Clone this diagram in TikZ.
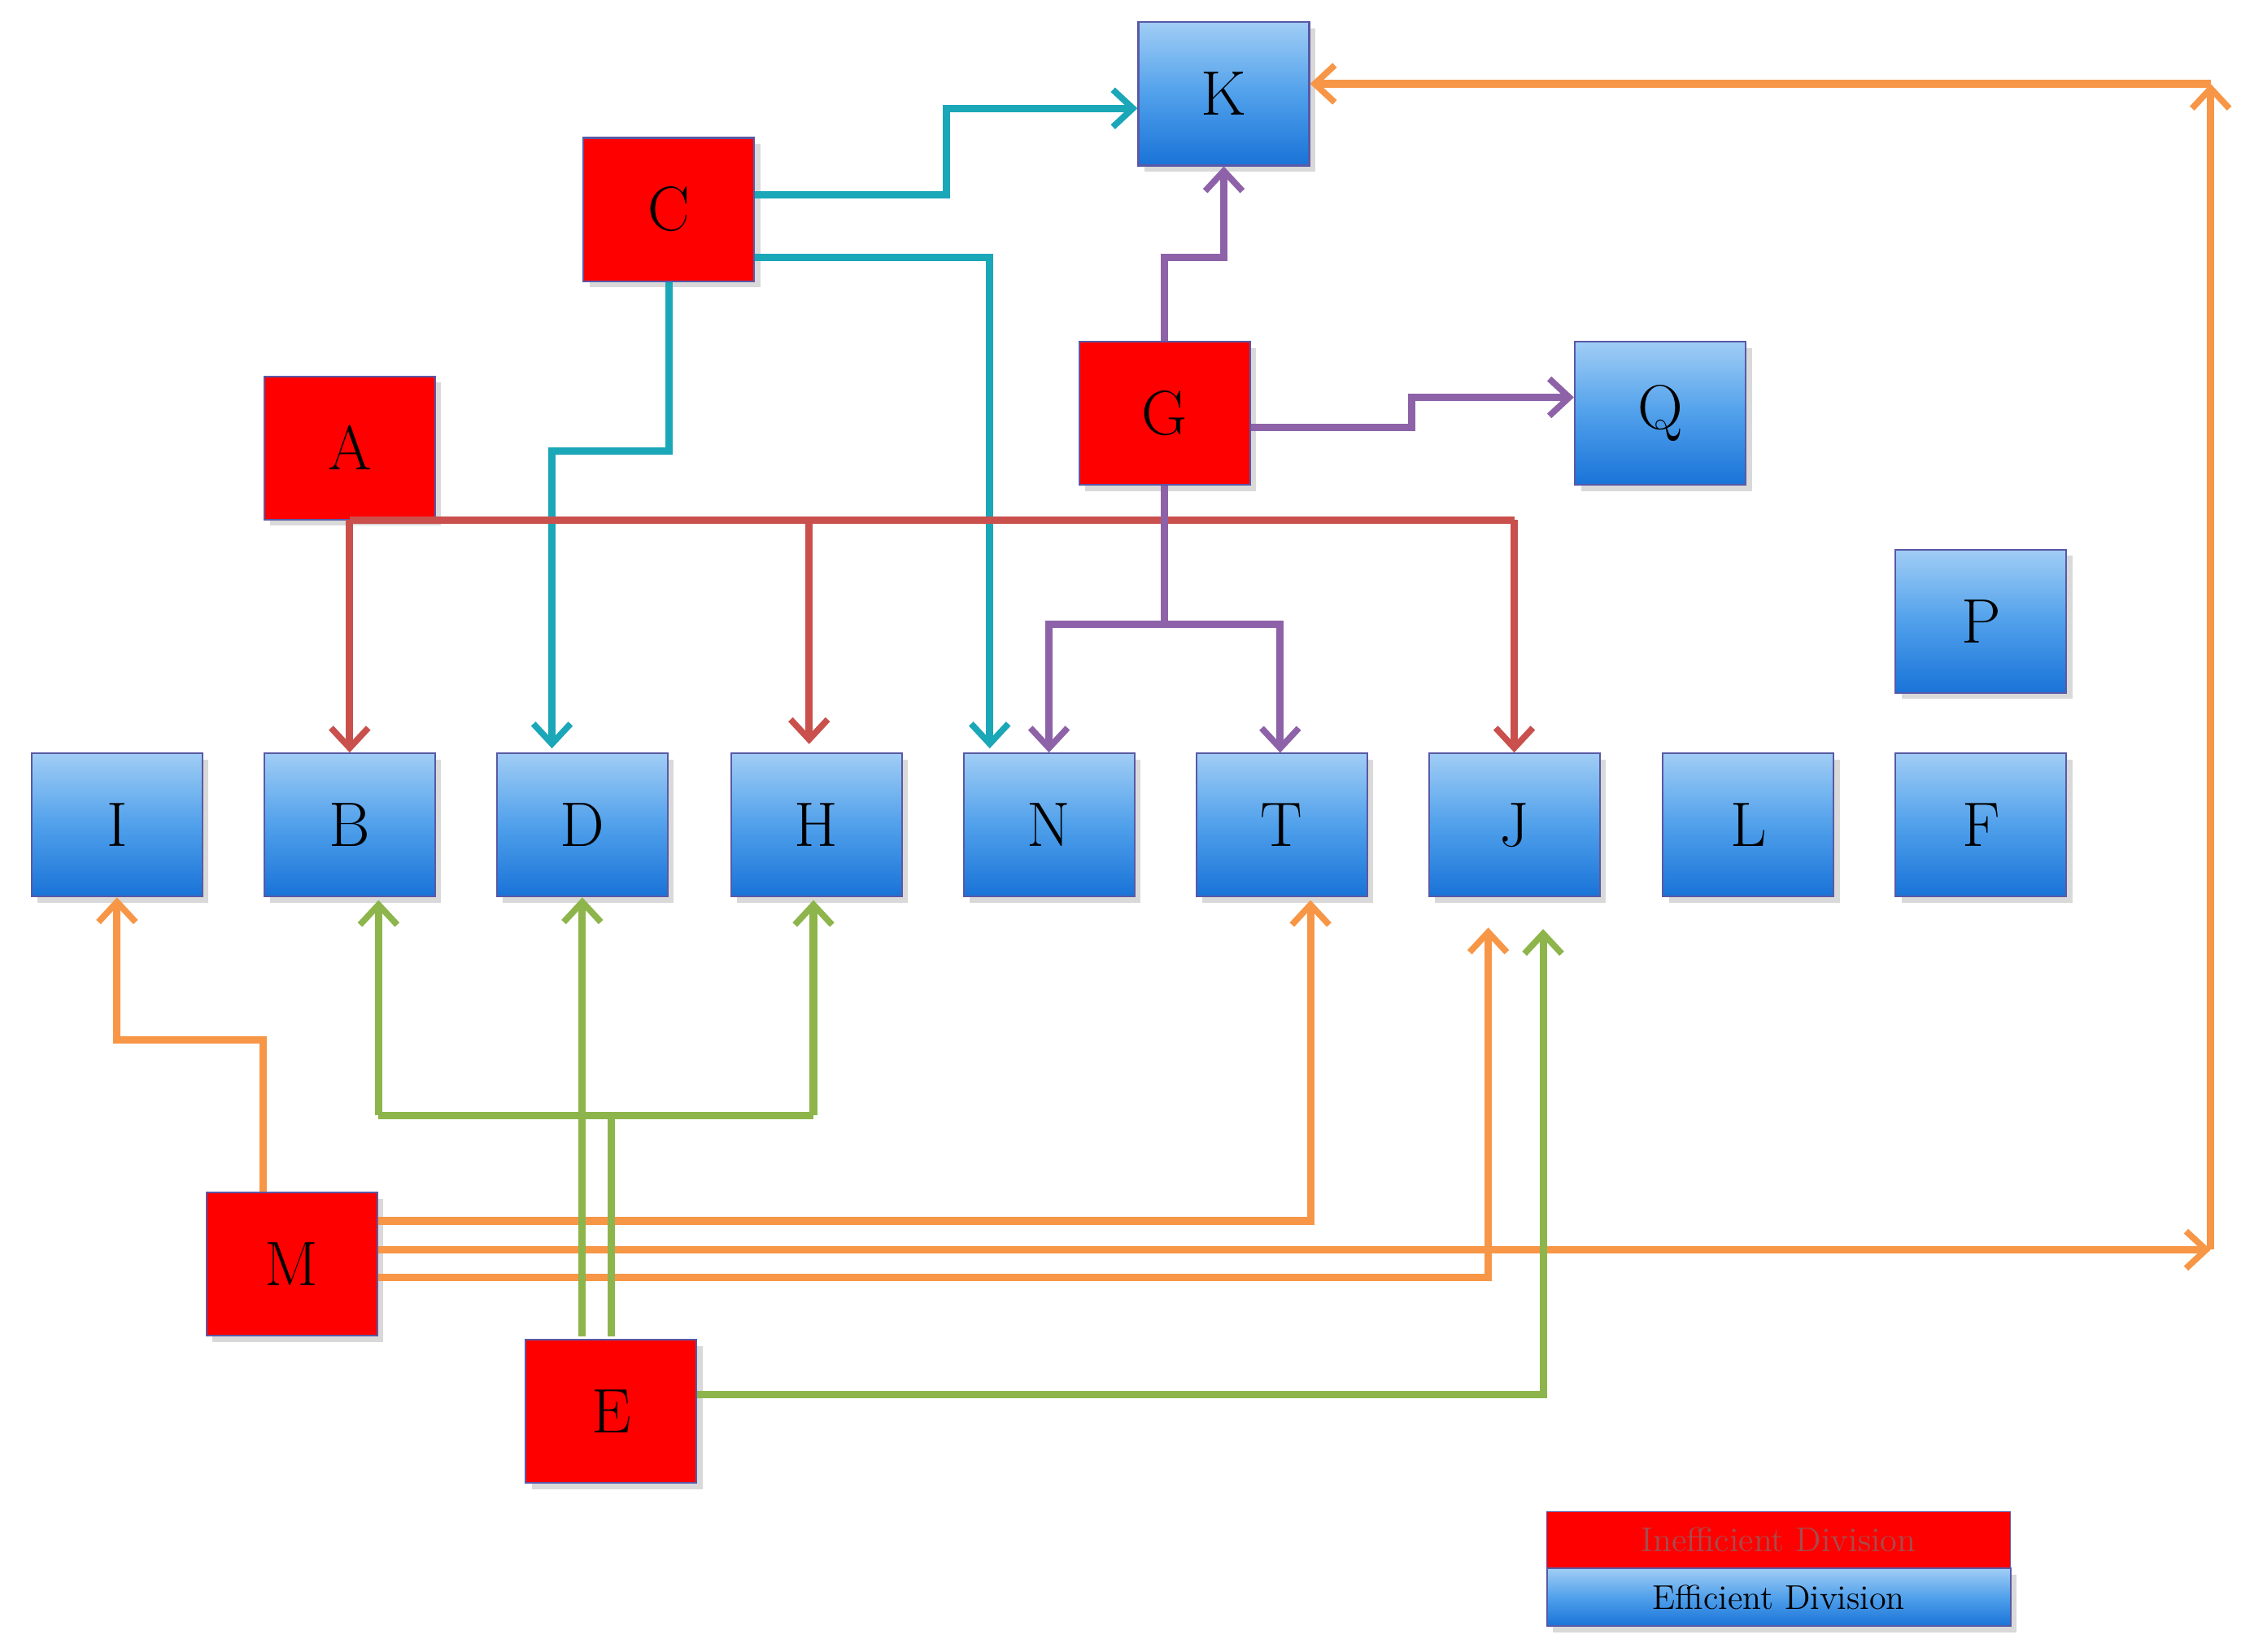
\documentclass[tikz,border=0pt]{standalone}
\usetikzlibrary{arrows.meta,shadows}
\definecolor{btop}{RGB}{160,205,245}
\definecolor{bmid}{RGB}{80,160,235}
\definecolor{bbot}{RGB}{25,115,215}
\begin{document}
\begin{tikzpicture}[x=0.017763cm,y=-0.017763cm,
 eff/.style={draw=blue!30!gray,line width=0.6pt,minimum width=2.1cm,minimum height=1.76cm,top color=btop,bottom color=bbot,middle color=bmid,drop shadow={opacity=0.3},font=\fontsize{22}{26}\selectfont},
 ineff/.style={draw=blue!30!gray,line width=0.6pt,fill=red,minimum width=2.1cm,minimum height=1.76cm,drop shadow={opacity=0.3},font=\fontsize{22}{26}\selectfont},
 con/.style={line width=2.6pt,-{Straight Barb[length=7pt,width=13pt,line width=2.2pt]}},
 plain/.style={line width=2.6pt},
 teal/.style={draw={rgb,255:red,26;green,167;blue,184}},
 redl/.style={draw={rgb,255:red,201;green,80;blue,76}},
 purp/.style={draw={rgb,255:red,142;green,98;blue,168}},
 oran/.style={draw={rgb,255:red,247;green,150;blue,70}},
 gree/.style={draw={rgb,255:red,141;green,181;blue,75}}]
\useasboundingbox (0,0) rectangle (1560,1143);
\node[eff] (K) at (847,65) {K};
\node[ineff] (C) at (463,145) {C};
\node[ineff] (A) at (242,310) {A};
\node[ineff] (G) at (806,286) {G};
\node[eff] (Q) at (1149,286) {Q};
\node[eff] (P) at (1371,430) {P};
\foreach \n/\x in {I/81,B/242,D/403,H/565,N/726,T/887,J/1048,L/1210,F/1371}
  \node[eff] (\n) at (\x,571) {\n};
\node[ineff] (M) at (202,875) {M};
\node[ineff] (E) at (423,977) {E};
% legend
\node[draw=blue!30!gray,fill=red,minimum width=5.7cm,minimum height=0.69cm,anchor=north west,text=red!50!black!70,font=\fontsize{12}{14}\selectfont] (LR) at (1070,1046) {Inefficient Division};
\node[eff,minimum width=5.7cm,minimum height=0.71cm,anchor=north west,font=\fontsize{12}{14}\selectfont] (LB) at (1070,1085) {Efficient Division};
% coordinates
\coordinate (c1) at (655,135); \coordinate (c2) at (655,75);
\coordinate (c3) at (685,178);
\coordinate (c4) at (463,312); \coordinate (c5) at (382,312);
% teal
\draw[con,teal] (C.east |- c1) -- (c1) -- (c2) -- (K.west |- c2);
\draw[con,teal] (C.east |- c3) -- (c3) -- (685,518);
\draw[con,teal] (C.south) -- (c4) -- (c5) -- (382,518);
% red
\coordinate (a0) at (242,360); \coordinate (a1) at (1048,360);
\draw[plain,redl] (a0) -- (a1);
\draw[con,redl] (a0) -- (B.north);
\draw[con,redl] (560,360) -- (560,515);
\draw[con,redl] (a1) -- (J.north);
% purple
\coordinate (g1) at (806,178); \coordinate (g2) at (847,178);
\draw[con,purp] (G.north) -- (g1) -- (g2) -- (K.south);
\coordinate (g3) at (977,296); \coordinate (g4) at (977,275);
\draw[con,purp] (G.east |- g3) -- (g3) -- (g4) -- (Q.west |- g4);
\coordinate (g5) at (806,432);
\draw[plain,purp] (G.south) -- (g5);
\draw[con,purp] (g5) -- (726,432) -- (N.north);
\draw[con,purp] (g5) -- (886,432) -- (886,521);
% orange
\coordinate (m1) at (182,720); \coordinate (m2) at (81,720);
\draw[con,oran] (182,825) -- (m1) -- (m2) -- (I.south);
\coordinate (m3) at (907,845);
\draw[con,oran] (M.east |- m3) -- (m3) -- (907,623);
\coordinate (m4) at (1530,865); \coordinate (m5) at (1530,58);
\draw[con,oran] (M.east |- m4) -- (m4);
\draw[con,oran] (m4) -- (m5);
\draw[con,oran] (m5) -- (K.east |- m5);
\coordinate (m6) at (1030,884);
\draw[con,oran] (M.east |- m6) -- (m6) -- (1030,642);
% green
\draw[con,gree] (403,925) -- (D.south);
\coordinate (e1) at (423,772);
\draw[plain,gree] (423,925) -- (e1);
\draw[plain,gree] (262,772) -- (563,772);
\draw[con,gree] (262,772) -- (262,623);
\draw[con,gree] (563,772) -- (563,623);
\coordinate (e2) at (1068,965);
\draw[con,gree] (E.east |- e2) -- (e2) -- (1068,643);
\end{tikzpicture}
\end{document}
